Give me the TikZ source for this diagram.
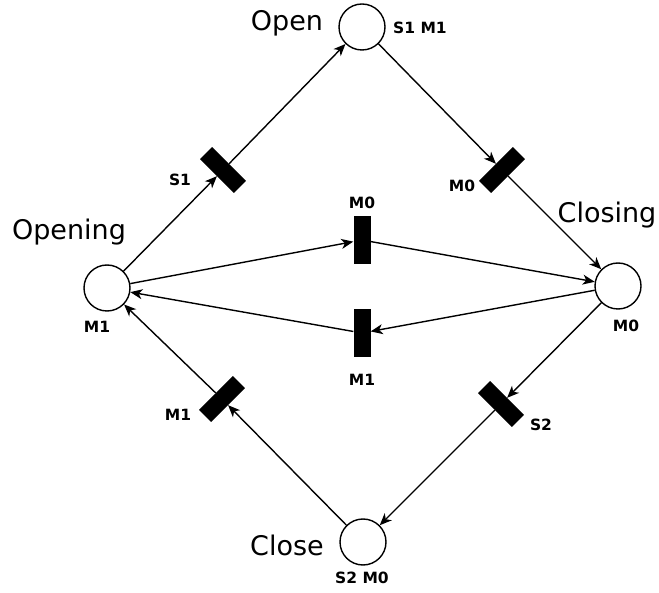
\documentclass[tikz,border=0pt]{standalone}
\usepackage{fontspec}
\setmainfont{DejaVu Sans}
\usetikzlibrary{arrows.meta}
\begin{document}
\begin{tikzpicture}[x=1pt,y=-1pt,
  place/.style={circle,draw,line width=1.4pt,minimum size=46pt,inner sep=0pt},
  trans/.style={rectangle,fill=black,minimum width=17pt,minimum height=48pt,inner sep=0pt},
  arc/.style={line width=1.4pt,-{Stealth[length=12pt,width=10pt,inset=3.5pt]}},
  big/.style={font=\fontsize{27}{30}\selectfont,inner sep=0pt},
  small/.style={font=\fontsize{15.5}{18}\selectfont\bfseries,inner sep=0pt}]
\useasboundingbox (0,0) rectangle (659,593);
% places
\node[place] (open) at (362,27) {};
\node[place] (closing) at (618,286) {};
\node[place] (opening) at (107,288) {};
\node[place] (close) at (363,542) {};
% transitions
\node[trans,rotate=45] (ts1) at (223,170) {};
\node[trans,rotate=-45] (tm0) at (502,170) {};
\node[trans] (mid0) at (362,240) {};
\node[trans] (mid1) at (362,333) {};
\node[trans,rotate=-45] (tm1) at (222,399) {};
\node[trans,rotate=45] (ts2) at (501,404) {};
% arcs
\draw[arc] (opening) -- (ts1);
\draw[arc] (ts1) -- (open);
\draw[arc] (open) -- (tm0);
\draw[arc] (tm0) -- (closing);
\draw[arc] (opening) -- (mid0);
\draw[arc] (mid0) -- (closing);
\draw[arc] (closing) -- (mid1);
\draw[arc] (mid1) -- (opening);
\draw[arc] (closing) -- (ts2);
\draw[arc] (ts2) -- (close);
\draw[arc] (close) -- (tm1);
\draw[arc] (tm1) -- (opening);
% labels
\node[big] (lopen) at (287,23) {Open};
\node[big] (lclosing) at (607,215) {Closing};
\node[big] (lopening) at (69,232) {Opening};
\node[big] (lclose) at (287,545) {Close};
\node[small] (ls1m1) at (420,28) {S1 M1};
\node[small] (ls1) at (180,180) {S1};
\node[small] (lm0a) at (462,186) {M0};
\node[small] (lm0b) at (362,203) {M0};
\node[small] (lm1a) at (97,327) {M1};
\node[small] (lm0c) at (626,326) {M0};
\node[small] (lm1b) at (362,380) {M1};
\node[small] (lm1c) at (178,415) {M1};
\node[small] (ls2) at (541,425) {S2};
\node[small] (ls2m0) at (362,578) {S2 M0};
\end{tikzpicture}
\end{document}
